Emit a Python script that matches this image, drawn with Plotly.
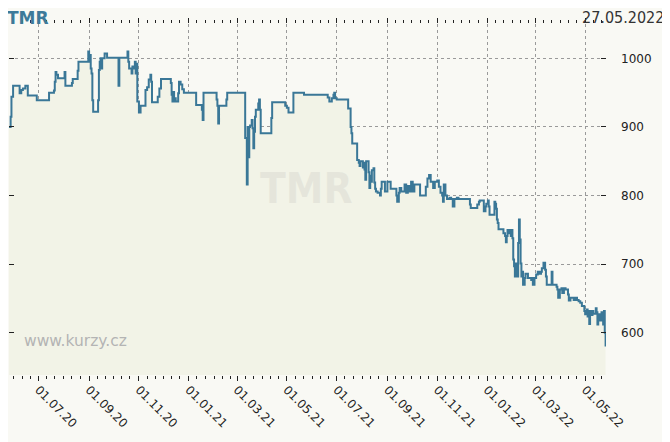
import plotly.graph_objects as go
import pandas as pd

# TMR daily close, 26.05.2020 - 26.05.2022
dates_2020 = [
    '2020-05-26', '2020-05-28', '2020-05-29', '2020-05-31', '2020-06-08', '2020-06-10',
    '2020-06-12', '2020-06-15', '2020-06-18', '2020-06-29', '2020-07-14', '2020-07-20',
    '2020-07-21', '2020-07-22', '2020-07-23', '2020-07-25', '2020-08-02', '2020-08-03',
    '2020-08-11', '2020-08-12', '2020-08-18', '2020-08-19', '2020-08-31', '2020-09-01',
    '2020-09-02', '2020-09-03', '2020-09-04', '2020-09-05', '2020-09-06', '2020-09-12',
    '2020-09-13', '2020-09-14', '2020-09-15', '2020-09-16', '2020-09-17', '2020-09-20',
    '2020-09-23', '2020-10-07', '2020-10-08', '2020-10-18', '2020-10-19', '2020-10-20',
    '2020-10-23', '2020-10-24', '2020-10-26', '2020-10-27', '2020-10-28', '2020-10-29',
    '2020-10-30', '2020-11-01', '2020-11-03', '2020-11-09', '2020-11-11', '2020-11-13',
    '2020-11-15', '2020-11-16', '2020-11-17', '2020-11-24', '2020-11-26', '2020-11-28',
    '2020-12-10', '2020-12-11', '2020-12-12', '2020-12-13', '2020-12-14', '2020-12-15',
    '2020-12-16', '2020-12-19', '2020-12-20', '2020-12-22', '2020-12-24', '2020-12-26',
]
close_2020 = [
    900, 915, 944, 960, 949, 954,
    956, 960, 946, 939, 950, 953,
    966, 980, 976, 971, 980, 960,
    964, 970, 982, 995, 1010, 995,
    1005, 985, 978, 939, 922, 939,
    983, 995, 1000, 985, 1000, 1007,
    1001, 960, 1001, 1010, 995, 985,
    978, 988, 985, 995, 978, 992,
    937, 921, 931, 954, 958, 969,
    976, 966, 936, 944, 956, 970,
    964, 947, 937, 951, 937, 942,
    937, 949, 966, 962, 955, 950,
]

dates_2021 = [
    '2021-01-10', '2021-01-17', '2021-01-18', '2021-01-19', '2021-02-04', '2021-02-05',
    '2021-02-06', '2021-02-07', '2021-02-16', '2021-02-17', '2021-03-11', '2021-03-13',
    '2021-03-14', '2021-03-15', '2021-03-16', '2021-03-17', '2021-03-19', '2021-03-20',
    '2021-03-21', '2021-03-22', '2021-03-23', '2021-03-24', '2021-03-27', '2021-03-28',
    '2021-03-29', '2021-03-30', '2021-04-12', '2021-04-13', '2021-04-29', '2021-05-01',
    '2021-05-03', '2021-05-09', '2021-05-22', '2021-06-20', '2021-06-22', '2021-06-25',
    '2021-06-27', '2021-06-28', '2021-06-29', '2021-07-01', '2021-07-15', '2021-07-18',
    '2021-07-19', '2021-07-20', '2021-07-26', '2021-07-28', '2021-07-29', '2021-07-30',
    '2021-08-02', '2021-08-03', '2021-08-04', '2021-08-05', '2021-08-06', '2021-08-09',
    '2021-08-10', '2021-08-11', '2021-08-12', '2021-08-13', '2021-08-15', '2021-08-16',
    '2021-08-17', '2021-08-18', '2021-08-20', '2021-08-23', '2021-08-24', '2021-08-25',
    '2021-08-29', '2021-09-01', '2021-09-05', '2021-09-12', '2021-09-13', '2021-09-15',
    '2021-09-16', '2021-09-18', '2021-09-22', '2021-09-24', '2021-09-26', '2021-09-28',
    '2021-09-30', '2021-10-02', '2021-10-04', '2021-10-11', '2021-10-18', '2021-10-20',
    '2021-10-22', '2021-10-24', '2021-10-27', '2021-10-29', '2021-11-01', '2021-11-03',
    '2021-11-05', '2021-11-07', '2021-11-08', '2021-11-09', '2021-11-11', '2021-11-13',
    '2021-11-16', '2021-11-18', '2021-11-20', '2021-11-22', '2021-11-25', '2021-11-27',
    '2021-12-11', '2021-12-12', '2021-12-20', '2021-12-22', '2021-12-23', '2021-12-28',
    '2021-12-30', '2021-12-31',
]
close_2021 = [
    932, 925, 910, 950, 940, 931,
    905, 931, 940, 950, 884, 816,
    900, 856, 900, 902, 910, 898,
    869, 893, 915, 925, 934, 940,
    925, 891, 913, 936, 931, 928,
    921, 950, 947, 943, 937, 942,
    947, 950, 942, 940, 927, 900,
    891, 876, 852, 848, 843, 850,
    841, 848, 838, 823, 850, 834,
    811, 829, 820, 837, 840, 819,
    810, 806, 804, 800, 810, 820,
    806, 820, 810, 800, 791, 804,
    811, 806, 816, 804, 814, 806,
    820, 806, 816, 800, 813, 825,
    830, 820, 811, 820, 822, 813,
    804, 800, 791, 816, 800, 795,
    797, 795, 784, 795, 797, 795,
    787, 782, 787, 791, 793, 777,
    784, 788,
]

dates_2022 = [
    '2022-01-02', '2022-01-03', '2022-01-04', '2022-01-10', '2022-01-11', '2022-01-12',
    '2022-01-13', '2022-01-14', '2022-01-15', '2022-01-21', '2022-01-23', '2022-01-24',
    '2022-01-25', '2022-01-26', '2022-01-28', '2022-01-29', '2022-01-30', '2022-01-31',
    '2022-02-01', '2022-02-02', '2022-02-03', '2022-02-04', '2022-02-05', '2022-02-06',
    '2022-02-07', '2022-02-08', '2022-02-09', '2022-02-10', '2022-02-11', '2022-02-12',
    '2022-02-13', '2022-02-14', '2022-02-16', '2022-02-17', '2022-02-20', '2022-02-24',
    '2022-02-25', '2022-02-26', '2022-02-28', '2022-03-02', '2022-03-04', '2022-03-06',
    '2022-03-08', '2022-03-09', '2022-03-11', '2022-03-13', '2022-03-14', '2022-03-15',
    '2022-03-21', '2022-03-22', '2022-03-27', '2022-03-28', '2022-03-29', '2022-03-31',
    '2022-04-02', '2022-04-03', '2022-04-05', '2022-04-07', '2022-04-10', '2022-04-11',
    '2022-04-13', '2022-04-17', '2022-04-19', '2022-04-21', '2022-04-23', '2022-04-25',
    '2022-04-27', '2022-04-30', '2022-05-01', '2022-05-03', '2022-05-04', '2022-05-05',
    '2022-05-06', '2022-05-07', '2022-05-08', '2022-05-09', '2022-05-10', '2022-05-11',
    '2022-05-14', '2022-05-15', '2022-05-16', '2022-05-17', '2022-05-19', '2022-05-21',
    '2022-05-22', '2022-05-23', '2022-05-24', '2022-05-25', '2022-05-26',
]
close_2022 = [
    793, 784, 772, 791, 788, 781,
    765, 760, 751, 745, 741, 732,
    741, 750, 745, 750, 741, 750,
    738, 707, 697, 682, 701, 694,
    682, 731, 765, 736, 701, 682,
    689, 670, 680, 686, 680, 677,
    680, 670, 680, 685, 689, 686,
    689, 694, 702, 692, 682, 670,
    689, 670, 667, 663, 651, 663,
    665, 658, 665, 663, 656, 647,
    651, 648, 651, 648, 646, 644,
    639, 632, 627, 634, 624, 632,
    613, 630, 632, 626, 632, 628,
    636, 630, 612, 627, 618, 630,
    618, 612, 632, 600, 580,
]

y_ticks = [600, 700, 800, 900, 1000]

dates = dates_2020 + dates_2021 + dates_2022
close = close_2020 + close_2021 + close_2022

# minor ticks on the 1st, 11th and 21st of every month
minor_ticks = []
for m in pd.date_range('2020-05-01', '2022-06-01', freq='MS'):
    for d in (0, 10, 20):
        minor_ticks.append((m + pd.Timedelta(days=d)).strftime('%Y-%m-%d'))

bg = '#f9f9f4'

fig = go.Figure()
fig.add_trace(go.Scatter(
    x=dates, y=close,
    mode='lines',
    line=dict(color='#3a7797', width=2, shape='hv'),
    fill='tozeroy',
    fillcolor='#f2f3e7',
    hoverinfo='x+y',
))

# the page body adds an 8px offset, so the margins are shifted to compensate
fig.update_layout(
    width=670, height=442,
    margin=dict(l=1, r=72, t=16, b=75),
    paper_bgcolor=bg,
    plot_bgcolor=bg,
    showlegend=False,
    font=dict(family='DejaVu Sans', size=12, color='#222222'),
    xaxis=dict(
        range=['2020-05-26', '2022-05-26 12:00'],
        tick0='2020-07-01', dtick='M2',
        tickformat='%d.%m.%y',
        tickangle=45,
        ticks='outside', ticklen=5, tickcolor='#222222', tickwidth=1,
        mirror='ticks',
        showline=False,
        showgrid=True, gridcolor='#9a9a9a', griddash='dot', gridwidth=1,
        zeroline=False,
        ticklabelstandoff=-3,
        minor=dict(tickvals=minor_ticks, ticks='outside', ticklen=3,
                   tickcolor='#222222', showgrid=False),
        tickfont=dict(size=12, color='#222222'),
    ),
    yaxis=dict(
        range=[538.6, 1050],
        side='right',
        tickvals=y_ticks,
        ticks='inside', ticklen=5, tickcolor='#222222', tickwidth=1,
        mirror='ticks',
        showline=False,
        showgrid=True, gridcolor='#9a9a9a', griddash='dot', gridwidth=1,
        zeroline=False,
        ticklabelstandoff=14,
        tickfont=dict(size=12, color='#222222'),
    ),
    annotations=[
        dict(text='<b>TMR</b>', xref='paper', yref='paper', x=0, y=1,
             xanchor='left', yanchor='bottom', xshift=-4, yshift=-6, showarrow=False,
             font=dict(family='DejaVu Sans', size=17, color='#3d7a9a')),
        dict(text='27.05.2022', xref='paper', yref='paper', x=1.1005, y=1,
             xanchor='right', yanchor='bottom', yshift=-5, showarrow=False,
             font=dict(family='DejaVu Sans Condensed', size=16, color='#333333')),
        dict(text='<b>TMR</b>', xref='paper', yref='paper', x=0.4975, y=0.5306,
             xanchor='center', yanchor='middle', showarrow=False,
             font=dict(family='DejaVu Sans Condensed', size=42,
                       color='rgba(190,190,185,0.25)')),
        dict(text='www.kurzy.cz', xref='paper', yref='paper', x=0.1106, y=0.0996,
             xanchor='center', yanchor='middle', yshift=-1, showarrow=False,
             font=dict(family='DejaVu Sans', size=15.5, color='#b4b4b4')),
    ],
)

fig.write_html('out.html')
